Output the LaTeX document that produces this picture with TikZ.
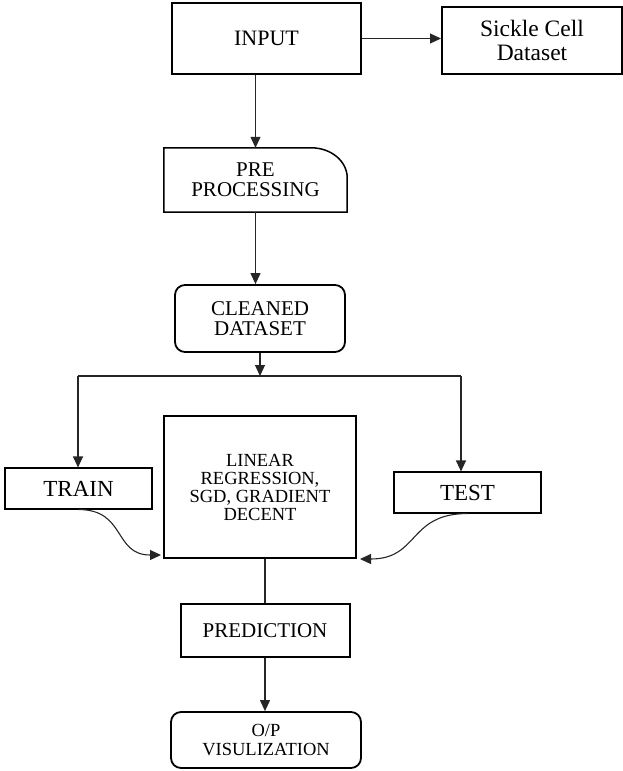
\documentclass[tikz,border=0pt]{standalone}
\usepackage{fontspec}
\setmainfont{Liberation Serif}
\usetikzlibrary{arrows.meta}

\begin{document}
\begin{tikzpicture}[x=1pt,y=-1pt,
    thickbox/.style={draw, line width=2pt, align=center, inner sep=0pt},
    thinbox/.style={draw, line width=1.1pt, align=center, inner sep=0pt},
    roundbox/.style={draw, line width=1.8pt, rounded corners=10pt, align=center, inner sep=0pt},
    link/.style={line width=1.1pt, draw=black!85},
    arrowlink/.style={link, -{Triangle[length=11pt,width=10pt]}}]

    % Fix the page size
    \useasboundingbox (0,0) rectangle (623,771);

    % Top row
    \node[thickbox, minimum width=189pt, minimum height=71pt, font=\fontsize{22}{22}\selectfont]
        (input) at (266.5,38.5) {INPUT};
    \node[thickbox, minimum width=180pt, minimum height=67pt, font=\fontsize{23.5}{24}\selectfont]
        (sickle) at (532,40.5) {Sickle Cell\\Dataset};

    % Pre processing (only the top right corner is rounded)
    \node[align=center, inner sep=0pt, minimum width=183pt, minimum height=64pt,
        font=\fontsize{21}{20}\selectfont] (pre) at (255.5,180) {PRE\\PROCESSING};
    \draw[line width=1.5pt] (pre.south west) -- (pre.north west)
        -- ([xshift=-36pt]pre.north east) arc[start angle=90, end angle=0, x radius=36pt, y radius=30pt]
        -- (pre.south east) -- cycle;

    \node[roundbox, minimum width=170pt, minimum height=67pt, font=\fontsize{21}{20}\selectfont]
        (clean) at (260,318.5) {CLEANED\\DATASET};

    % Split into train and test
    \coordinate (split) at (260,376);
    \coordinate (lsplit) at (78,376);
    \coordinate (rsplit) at (461,376);

    \node[thinbox, minimum width=147pt, minimum height=41pt, font=\fontsize{23}{23}\selectfont]
        (train) at (78.5,488.5) {TRAIN};
    \node[thinbox, minimum width=147pt, minimum height=41pt, font=\fontsize{23}{23}\selectfont]
        (test) at (467.5,492.5) {TEST};

    % Model box
    \node[thickbox, minimum width=192pt, minimum height=142pt, font=\fontsize{18.5}{18}\selectfont]
        (model) at (260,487) {LINEAR\\REGRESSION,\\SGD, GRADIENT\\DECENT};

    % Bottom part
    \node[thickbox, minimum width=169pt, minimum height=53pt, font=\fontsize{21}{21}\selectfont]
        (predict) at (265,630.5) {PREDICTION};
    \node[roundbox, minimum width=190pt, minimum height=56pt, font=\fontsize{18.5}{19}\selectfont]
        (output) at (266,740) {O/P\\VISULIZATION};

    % Connectors
    \draw[arrowlink] (input.east) -- (input.east -| sickle.west);
    \draw[arrowlink] (input.south -| pre.north) -- (pre.north);
    \draw[arrowlink] (pre.south) -- (pre.south |- clean.north);
    \draw[arrowlink] (clean.south) -- (split);
    \draw[link] (lsplit) -- (rsplit);
    \draw[arrowlink] (lsplit) -- (lsplit |- train.north);
    \draw[arrowlink] (rsplit) -- (rsplit |- test.north);
    \draw[arrowlink] (train.south) to[out=0, in=180, looseness=1.3] ([xshift=-2pt, yshift=4pt]model.south west);
    \draw[arrowlink] (test.south) to[out=180, in=0, looseness=1.3] ([xshift=3pt]model.south east);
    \draw[link] (model.south -| predict.north) -- (predict.north);
    \draw[arrowlink] (predict.south) -- (predict.south |- output.north);

\end{tikzpicture}
\end{document}
